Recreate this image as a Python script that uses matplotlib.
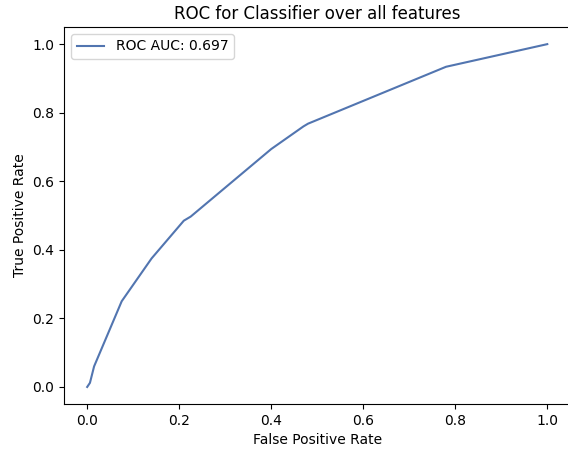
import matplotlib
matplotlib.use("Agg")
import matplotlib.pyplot as plt

# ROC curve points
fpr = [0.0, 0.006, 0.015, 0.075, 0.14, 0.21, 0.225, 0.40, 0.47, 0.48, 0.78, 1.0]
tpr = [0.0, 0.012, 0.06, 0.25, 0.375, 0.485, 0.497, 0.694, 0.76, 0.768, 0.934, 1.0]
auc_label = "ROC AUC: 0.697"

fig = plt.figure(figsize=(5.68, 4.5), dpi=100)
ax = fig.add_axes([0.113, 0.102, 0.891, 0.838])
ax.plot(fpr, tpr, color='#5275b0', lw=1.5, label=auc_label)
ax.set_title("ROC for Classifier over all features")
ax.set_xlabel("False Positive Rate")
ax.set_ylabel("True Positive Rate")
ax.legend(loc='upper left')
plt.savefig("out.png", dpi=100)
plt.close()
